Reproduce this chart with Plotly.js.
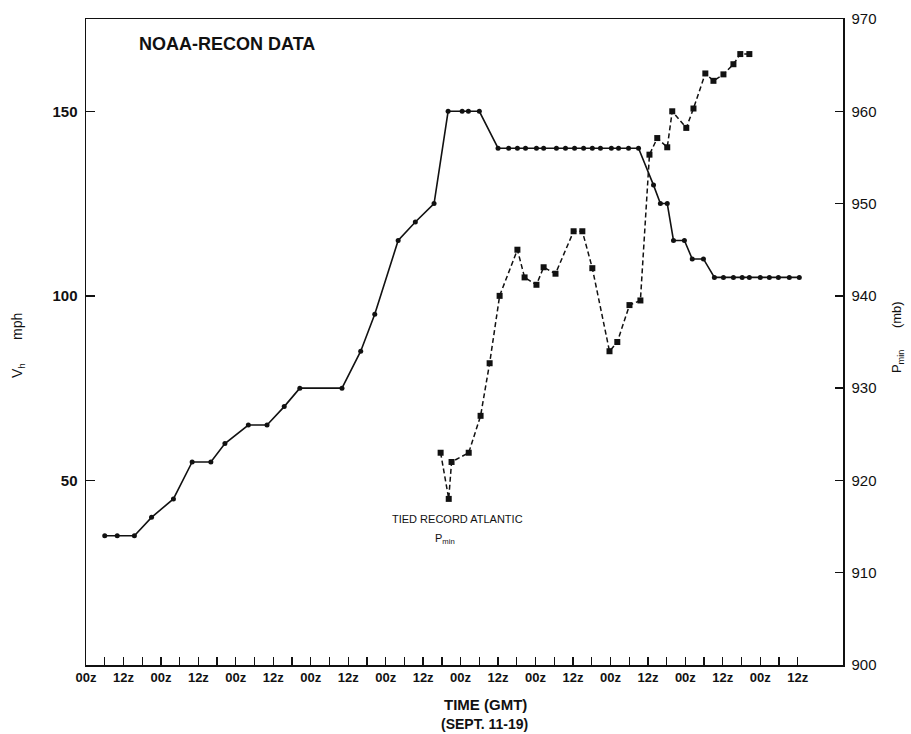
<!DOCTYPE html>
<html>
<head>
<meta charset="utf-8">
<script src="https://cdn.plot.ly/plotly-3.0.1.min.js"></script>
<style>
  html, body { margin: 0; padding: 0; background: #fff; }
  #chart { width: 911px; height: 734px; }
</style>
</head>
<body>
<div id="chart"></div>
<script>
// Hours after 00z Sept. 11 and reconnaissance values
const vhHours = [6, 10, 15.5, 21, 28, 34, 40, 44.5, 52, 58, 63.5, 68.5, 82, 88, 92.5, 100, 105.5, 111.5,
  116, 120.5, 122.5, 126, 132, 135.4, 138.2, 140.8, 144.3, 146.6, 150.7, 153.6, 156.5, 159.4, 162.2,
  164.8, 168.3, 170.6, 173.8, 177, 181.8, 184, 186.2, 188.2, 191.7, 194.2, 197.8, 201.3, 204.2, 207.4,
  210.2, 212.5, 216, 218.9, 221.8, 225.3, 228.5];
const vhMph = [35, 35, 35, 40, 45, 55, 55, 60, 65, 65, 70, 75, 75, 85, 95, 115, 120, 125,
  150, 150, 150, 150, 140, 140, 140, 140, 140, 140, 140, 140, 140, 140, 140,
  140, 140, 140, 140, 140, 130, 125, 125, 115, 115, 110, 110, 105, 105, 105,
  105, 105, 105, 105, 105, 105, 105];

const pHours = [113.6, 116.2, 117.1, 122.6, 126.4, 129.3, 132.5, 138.2, 140.5, 144.3, 146.6, 150.4,
  156.2, 159, 162.2, 167.7, 170.2, 174.1, 177.6, 180.5, 183, 186.2, 187.8, 192.3, 194.6, 198.4,
  201, 204.2, 207.4, 209.6, 212.5];
const pMb = [923, 918, 922, 923, 927, 932.7, 940, 945, 942, 941.2, 943.1, 942.4,
  947, 947, 943, 934, 935, 939, 939.5, 955.3, 957.1, 956.1, 960, 958.2, 960.3, 964.1,
  963.3, 964, 965.1, 966.2, 966.2];

// Time axis: labels every 12 h, small ticks every 6 h, tall ticks at 00z
const labelHours = [0, 12, 24, 36, 48, 60, 72, 84, 96, 108, 120, 132, 144, 156, 168, 180, 192, 204, 216, 228];
const labelText = ["00z", "12z", "00z", "12z", "00z", "12z", "00z", "12z", "00z", "12z",
  "00z", "12z", "00z", "12z", "00z", "12z", "00z", "12z", "00z", "12z"];
const sixHourTicks = [6, 18, 30, 42, 54, 66, 78, 90, 102, 114, 126, 138, 150, 162, 174, 186, 198, 210, 222];
const dayTicks = [24, 48, 72, 96, 120, 144, 168, 192, 216];

const vhTickVals = [50, 100, 150];

const INK = "#111";
const FONT = "Liberation Sans, Arial, Helvetica, sans-serif";
const NB = "\u00A0";

const traces = [
  {
    x: vhHours, y: vhMph, type: "scatter", mode: "lines+markers",
    line: { color: INK, width: 1.6 },
    marker: { symbol: "circle", size: 5, color: INK },
    hoverinfo: "x+y"
  },
  {
    x: pHours, y: pMb, type: "scatter", mode: "lines+markers", yaxis: "y2",
    line: { color: INK, width: 1.5, dash: "5px,3px" },
    marker: { symbol: "square", size: 6, color: INK },
    hoverinfo: "x+y"
  }
];

const xRange = [0, 242.5];

const layout = {
  width: 911, height: 734,
  margin: { l: 86, r: 68, t: 19, b: 69 },
  paper_bgcolor: "#fff", plot_bgcolor: "#fff",
  showlegend: false,
  font: { family: FONT, color: INK },
  xaxis: {
    range: xRange, fixedrange: true,
    tickmode: "array", tickvals: labelHours, ticktext: labelText,
    ticks: "inside", ticklen: 8, tickwidth: 1.3, tickcolor: INK,
    tickfont: { family: FONT, size: 13, weight: "bold", color: INK },
    minor: { tickmode: "array", tickvals: sixHourTicks, ticks: "inside", ticklen: 8, tickwidth: 1.3, tickcolor: INK },
    showline: true, linecolor: INK, linewidth: 1.5, mirror: true,
    showgrid: false, zeroline: false
  },
  xaxis2: {
    overlaying: "x", anchor: "y", side: "bottom",
    range: xRange, fixedrange: true,
    tickmode: "array", tickvals: dayTicks,
    ticks: "inside", ticklen: 16, tickwidth: 1.4, tickcolor: INK,
    showticklabels: false, showline: false, showgrid: false, zeroline: false
  },
  yaxis: {
    range: [0, 175], fixedrange: true,
    tickmode: "array", tickvals: vhTickVals,
    ticks: "inside", ticklen: 9, tickwidth: 1.3, tickcolor: INK,
    ticklabelstandoff: 4,
    tickfont: { family: FONT, size: 15, weight: "bold", color: INK },
    showline: true, linecolor: INK, linewidth: 1.5,
    showgrid: false, zeroline: false
  },
  yaxis2: {
    overlaying: "y", side: "right", anchor: "x",
    range: [900, 970], fixedrange: true,
    tick0: 900, dtick: 10,
    ticks: "inside", ticklen: 8, tickwidth: 1.3, tickcolor: INK,
    ticklabelstandoff: 4,
    tickfont: { family: FONT, size: 15, color: INK },
    showline: true, linecolor: INK, linewidth: 1.5,
    showgrid: false, zeroline: false
  },
  annotations: [
    {
      text: "NOAA-RECON DATA", xref: "paper", yref: "paper",
      x: 0.067, y: 0.961, xanchor: "left", yanchor: "middle", showarrow: false,
      font: { family: FONT, size: 18, weight: "bold", color: INK }
    },
    {
      text: "TIED RECORD ATLANTIC", xref: "paper", yref: "paper",
      x: 0.491, y: 0.226, xanchor: "center", yanchor: "middle", showarrow: false,
      font: { family: FONT, size: 11, color: INK }
    },
    {
      text: "P<sub>min</sub>", xref: "paper", yref: "paper",
      x: 0.474, y: 0.195, xanchor: "center", yanchor: "middle", showarrow: false,
      font: { family: FONT, size: 11, color: INK }
    },
    {
      text: "<b>TIME (GMT)</b>", xref: "paper", yref: "paper",
      x: 0.528, y: -0.061, xanchor: "center", yanchor: "middle", showarrow: false,
      font: { family: FONT, size: 15, color: INK }
    },
    {
      text: "<b>(SEPT. 11-19)</b>", xref: "paper", yref: "paper",
      x: 0.526, y: -0.091, xanchor: "center", yanchor: "middle", showarrow: false,
      font: { family: FONT, size: 14, color: INK }
    },
    {
      text: "V<sub>h</sub>" + NB.repeat(6) + "mph", xref: "paper", yref: "paper",
      x: -0.09, y: 0.495, xanchor: "center", yanchor: "middle", textangle: -90, showarrow: false,
      font: { family: FONT, size: 14, color: INK }
    },
    {
      text: "P<sub>min</sub>" + NB.repeat(6) + "(mb)", xref: "paper", yref: "paper",
      x: 1.073, y: 0.508, xanchor: "center", yanchor: "middle", textangle: -90, showarrow: false,
      font: { family: FONT, size: 13, color: INK }
    }
  ]
};

Plotly.newPlot("chart", traces, layout, { staticPlot: true, displayModeBar: false });
</script>
</body>
</html>
